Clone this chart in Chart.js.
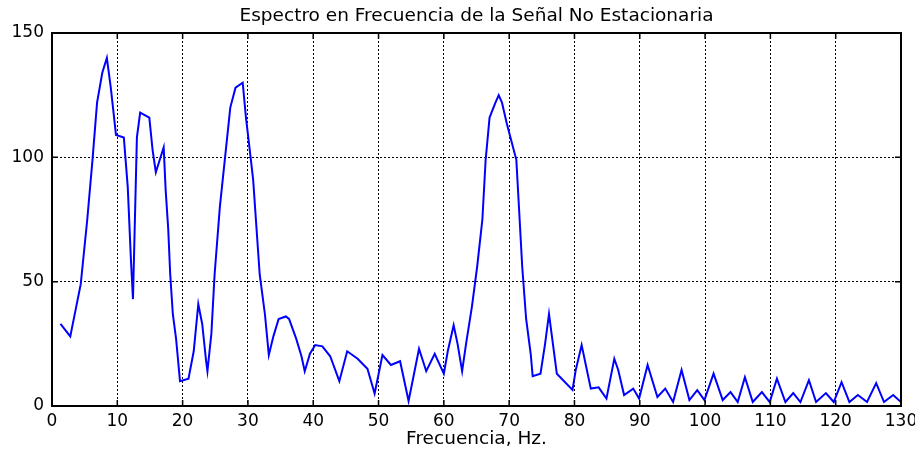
<!DOCTYPE html>
<html>
<head>
<meta charset="utf-8">
<script src="https://cdn.jsdelivr.net/npm/chart.js@4.4.1/dist/chart.umd.min.js"></script>
<style>
    html, body { margin: 0; padding: 0; background: #ffffff; }
    #contenedor { width: 915px; height: 450px; }
</style>
</head>
<body>
<div id="contenedor"><canvas id="espectro"></canvas></div>
<script>
const titulo = 'Espectro en Frecuencia de la Señal No Estacionaria';
const tituloX = 'Frecuencia, Hz.';

const ticksX = [0, 10, 20, 30, 40, 50, 60, 70, 80, 90, 100, 110, 120, 130];
const ticksY = [0, 50, 100, 150];

// frecuencia (Hz) y magnitud
const frecuencias = [
    1.3, 2.8, 4.4, 5.4, 6.2, 6.9, 7.7, 8.4, 9.0, 9.8,
    11.0, 11.6, 12.1, 12.4, 13.0, 13.5, 14.9, 15.4, 15.9, 16.5,
    17.1, 17.4, 17.8, 18.1, 18.5, 19.0, 19.6, 20.9, 21.7, 22.4,
    23.0, 23.6, 23.8, 24.4, 24.9, 25.7, 26.5, 27.3, 28.1, 29.2,
    29.7, 30.1, 30.8, 31.3, 31.8, 32.6, 33.2, 33.9, 34.7, 35.8,
    36.3, 37.4, 38.2, 38.7, 39.5, 40.3, 41.4, 42.6, 44.0, 45.2,
    46.8, 48.3, 49.4, 50.6, 51.9, 53.3, 54.6, 56.2, 57.3, 58.6,
    60.0, 60.6, 61.5, 62.1, 62.8, 63.4, 64.3, 65.1, 65.9, 66.4,
    67.0, 67.9, 68.4, 68.9, 69.6, 70.3, 71.1, 71.5, 72.0, 72.6,
    73.3, 73.6, 74.8, 75.5, 76.1, 76.7, 77.3, 79.7, 80.2, 81.1,
    81.9, 82.5, 83.7, 84.9, 86.1, 86.7, 87.6, 89.0, 89.9, 91.2,
    92.7, 93.9, 95.1, 96.4, 97.6, 98.8, 99.9, 101.3, 102.7, 103.9,
    105.0, 106.1, 107.3, 108.7, 109.9, 111.0, 112.3, 113.5, 114.6, 115.9,
    117.0, 118.5, 119.7, 120.9, 122.1, 123.4, 124.8, 126.2, 127.4, 128.8,
    130.0
];
const magnitudes = [
    33, 28, 49, 75, 99, 122, 134, 140, 128, 109,
    108, 88, 58, 43, 108, 118, 116, 103, 94, 99,
    104, 87, 71, 53, 37, 27, 10, 11, 22, 41,
    33, 18, 14, 29, 53, 80, 100, 120, 128, 130,
    116, 107, 91, 72, 53, 37, 20.5, 28, 35, 36,
    35, 27, 20, 14, 21, 24.5, 24, 20, 10, 22,
    19, 15, 5, 20.5, 16.5, 18, 2, 23, 14, 21,
    13, 22, 32.5, 25, 14, 25, 40, 56, 75, 99,
    116, 122, 125, 122, 114, 107, 99, 80, 56, 35,
    21, 12, 13, 25, 37, 25, 13, 6.5, 14.5, 24.5,
    14.5, 7, 7.5, 3, 19, 14.5, 4.4, 7, 3, 16.5,
    3.6, 7, 1.6, 14.5, 2.4, 6.4, 2.4, 13, 2.4, 5.6,
    1.6, 11.6, 1.6, 5.6, 1.6, 11, 1.6, 5.2, 1.6, 10.4,
    1.6, 5.2, 1.6, 9.6, 1.6, 4.4, 1.6, 9.2, 1.6, 4.4,
    1.6
];

const fuente = 'DejaVu Sans';

// caja cerrada, marcas hacia adentro y titulo centrado sobre el area, como en matlab
const cajaEjes = {
    id: 'cajaEjes',
    afterDraw(chart) {
        const ctx = chart.ctx;
        const a = chart.chartArea;
        const x = chart.scales.x;
        const y = chart.scales.y;
        ctx.save();
        ctx.strokeStyle = '#000000';
        ctx.lineWidth = 1.5;
        ctx.beginPath();
        x.ticks.forEach(function (t) {
            const px = x.getPixelForValue(t.value);
            ctx.moveTo(px, a.bottom);
            ctx.lineTo(px, a.bottom - 6);
            ctx.moveTo(px, a.top);
            ctx.lineTo(px, a.top + 6);
        });
        y.ticks.forEach(function (t) {
            const py = y.getPixelForValue(t.value);
            ctx.moveTo(a.left, py);
            ctx.lineTo(a.left + 6, py);
            ctx.moveTo(a.right, py);
            ctx.lineTo(a.right - 6, py);
        });
        ctx.stroke();
        ctx.lineWidth = 2;
        ctx.strokeRect(a.left, a.top, a.right - a.left, a.bottom - a.top);

        ctx.fillStyle = '#000000';
        ctx.font = '18.5px "' + fuente + '"';
        ctx.textAlign = 'center';
        ctx.textBaseline = 'middle';
        ctx.fillText(titulo, (a.left + a.right) / 2, 16);
        ctx.restore();
    }
};

function plotarEspectro() {
    const puntos = frecuencias.map(function (f, i) {
        return { x: f, y: magnitudes[i] };
    });

    const config = {
        type: 'line',
        data: {
            datasets: [{
                label: 'Espectro',
                data: puntos,
                borderColor: '#0000ff',
                borderWidth: 2,
                pointRadius: 0,
                tension: 0,
                fill: false
            }]
        },
        options: {
            responsive: true,
            maintainAspectRatio: false,
            animation: false,
            layout: { padding: { left: 0, right: 14, top: 33, bottom: 0 } },
            plugins: {
                legend: { display: false },
                tooltip: { enabled: false },
                title: { display: false }
            },
            scales: {
                x: {
                    type: 'linear',
                    min: ticksX[0],
                    max: ticksX[ticksX.length - 1],
                    afterBuildTicks: function (scale) {
                        scale.ticks = ticksX.map(function (v) { return { value: v }; });
                    },
                    afterFit: function (scale) {
                        scale.height = 44;
                        scale.paddingLeft = 0;
                        scale.paddingRight = 0;
                    },
                    grid: { color: '#000000', lineWidth: 1, drawTicks: false },
                    border: { display: false, dash: [2, 2] },
                    ticks: {
                        color: '#000000',
                        padding: 5,
                        maxRotation: 0,
                        autoSkip: false,
                        font: { family: fuente, size: 17 }
                    },
                    title: {
                        display: true,
                        text: tituloX,
                        color: '#000000',
                        font: { family: fuente, size: 18.5 },
                        padding: { top: 0, bottom: 0 }
                    }
                },
                y: {
                    type: 'linear',
                    min: ticksY[0],
                    max: ticksY[ticksY.length - 1],
                    afterBuildTicks: function (scale) {
                        scale.ticks = ticksY.map(function (v) { return { value: v }; });
                    },
                    afterFit: function (scale) {
                        scale.width = 52;
                    },
                    grid: { color: '#000000', lineWidth: 1, drawTicks: false },
                    border: { display: false, dash: [2, 2] },
                    ticks: {
                        color: '#000000',
                        padding: 8,
                        font: { family: fuente, size: 17 }
                    }
                }
            }
        },
        plugins: [cajaEjes]
    };

    new Chart(document.getElementById('espectro'), config);
}

plotarEspectro();
</script>
</body>
</html>
